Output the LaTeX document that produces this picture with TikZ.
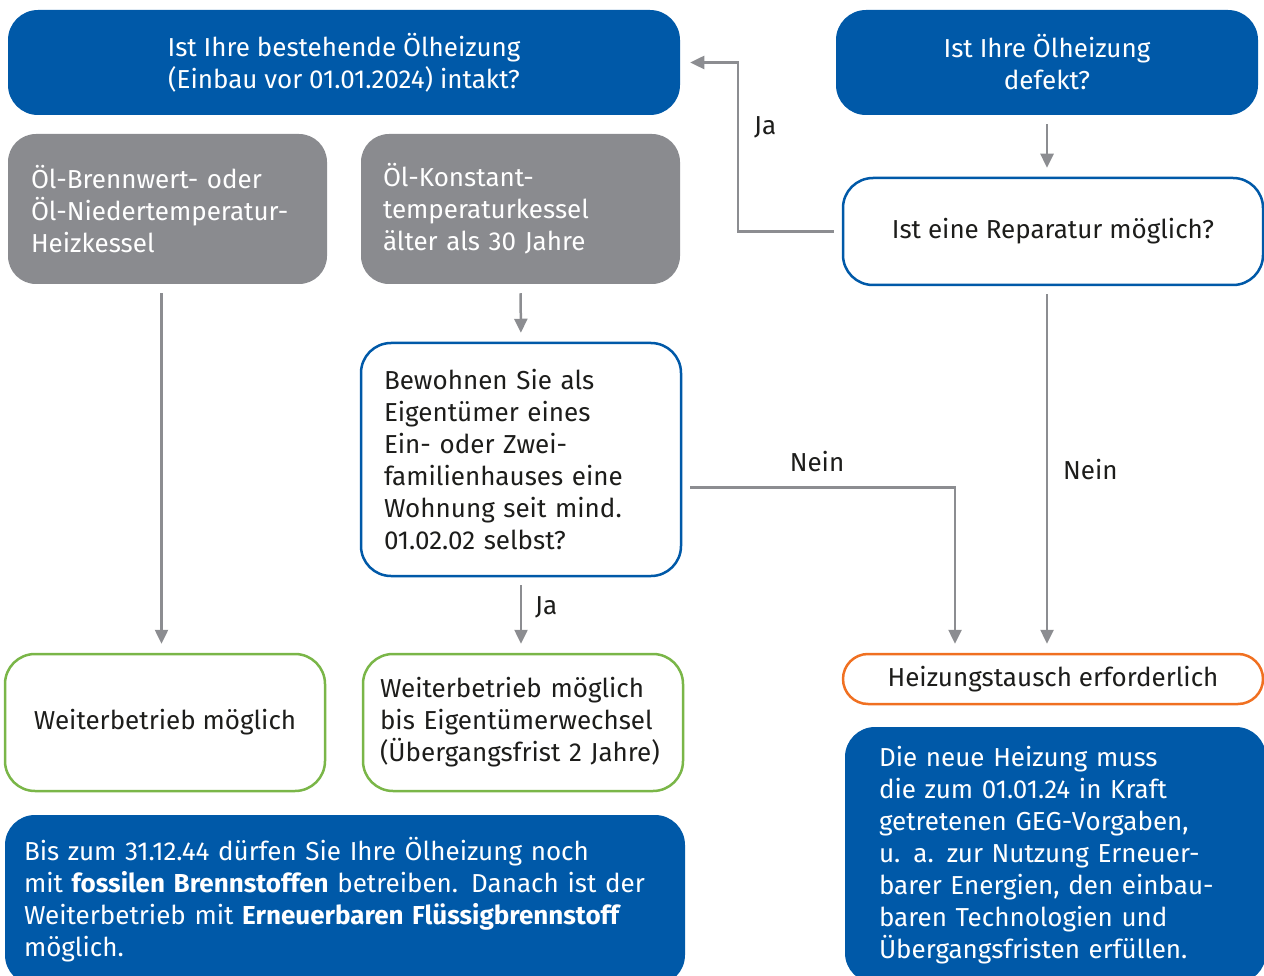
\documentclass[tikz,border=0pt]{standalone}
\usepackage{fontspec}
\setmainfont{Fira Sans}
\usetikzlibrary{arrows.meta,calc}
\definecolor{hblue}{RGB}{0,89,168}
\definecolor{hgrey}{RGB}{138,139,143}
\definecolor{harrow}{RGB}{140,141,145}
\definecolor{hgreen}{RGB}{122,182,72}
\definecolor{horange}{RGB}{240,112,33}
\definecolor{htext}{RGB}{29,29,27}
\tikzset{
  every node/.style={font=\fontsize{26}{32}\selectfont, text=htext},
  wh/.style 2 args={minimum width=#1pt, minimum height=#2pt},
  base/.style={rounded corners=30pt, inner ysep=0pt, line width=2.5pt},
  askbox/.style={base, fill=hblue, text=white, align=center},
  kessel/.style={base, fill=hgrey, text=white, align=left, rounded corners=28pt},
  question/.style={base, draw=hblue, fill=white, align=left},
  result/.style={base, draw=hgreen, align=left},
  need/.style={base, draw=horange, rounded corners=25pt},
  info/.style={base, fill=hblue, text=white, align=left},
  flow/.style={draw=harrow, line width=2.5pt, -{Triangle[length=14pt,width=13pt]},
    shorten <=8pt, shorten >=9pt},
  lbl/.style={inner sep=0pt}
}

\begin{document}
\begin{tikzpicture}[x=1pt, y=-1pt]
  \clip (0,0) rectangle (1264,976);
  \node[askbox, wh={672}{105}] (existing) at (344,62.5)
    {Ist Ihre bestehende Ölheizung\\(Einbau vor 01.01.2024) intakt?};
  \node[askbox, wh={422}{105}] (defect) at (1047,62.5)
    {Ist Ihre Ölheizung\\defekt?};
  \node[kessel, wh={319}{150}, inner xsep=23pt, text width=273pt] (oldA) at (167.5,209)
    {Öl-Brennwert- oder\\Öl-Niedertemperatur-\\Heizkessel};
  \node[kessel, wh={319}{150}, inner xsep=22pt, text width=275pt] (oldB) at (520.5,209)
    {Öl-Konstant-\\temperaturkessel\\älter als 30 Jahre};
  \node[question, wh={420}{107}, align=center] (repair) at (1053,231.5)
    {Ist eine Reparatur möglich?};
  \node[question, wh={320}{233}, inner xsep=23pt, text width=274pt] (owner) at (521,459.5)
    {Bewohnen Sie als\\Eigentümer eines\\Ein- oder Zwei-\\familienhauses eine\\Wohnung seit mind.\\01.02.02 selbst?};
  \node[result, wh={320}{137}, align=center] (keepA) at (165,722.5)
    {Weiterbetrieb möglich};
  \node[result, wh={320}{137}, inner xsep=17pt, text width=286pt] (keepB) at (523,722.5)
    {Weiterbetrieb möglich\\bis Eigentümerwechsel\\(Übergangsfrist 2 Jahre)};
  \node[need, wh={420}{50}] (swap) at (1053,679)
    {Heizungstausch erforderlich};
  \node[info, wh={421}{256}, inner xsep=34pt, text width=353pt] (newinfo) at (1055.5,855)
    {Die neue Heizung muss\\die zum 01.01.24 in Kraft\\getretenen GEG-Vorgaben,\\u. a. zur Nutzung Erneuer-\\barer Energien, den einbau-\\baren Technologien und\\Übergangsfristen erfüllen.};
  \node[info, wh={680}{170}, inner xsep=19pt, text width=642pt] (oldinfo) at (345,900)
    {Bis zum 31.12.44 dürfen Sie Ihre Ölheizung noch\\mit \textbf{fossilen Brennstoffen} betreiben. Danach ist der\\Weiterbetrieb mit \textbf{Erneuerbaren Flüssigbrennstoff}\\möglich.};

  \coordinate (bendJa) at (738,0);
  \draw[flow] (repair.west) -- (repair.west -| bendJa) |- (existing.east);
  \draw[flow] (defect.south) -- (defect.south |- repair.north);
  \draw[flow] ([xshift=-6pt]oldA.south) -- ([xshift=-6pt]oldA.south |- keepA.north);
  \draw[flow] (oldB.south) -- (owner.north);
  \draw[flow] (owner.south) -- (owner.south |- keepB.north);
  \draw[flow] ([yshift=-28pt]owner.east) -| ([xshift=-98pt]swap.north);
  \draw[flow] (repair.south -| defect.south) -- (swap.north -| defect.south);

  \node[lbl, anchor=west] (jaTop) at (754,127) {Ja};
  \node[lbl, anchor=west] (jaOwner) at (535,607) {Ja};
  \node[lbl] (neinOwner) at (817,462) {Nein};
  \node[lbl, anchor=west] (neinRepair) at (1063,470) {Nein};
\end{tikzpicture}
\end{document}
